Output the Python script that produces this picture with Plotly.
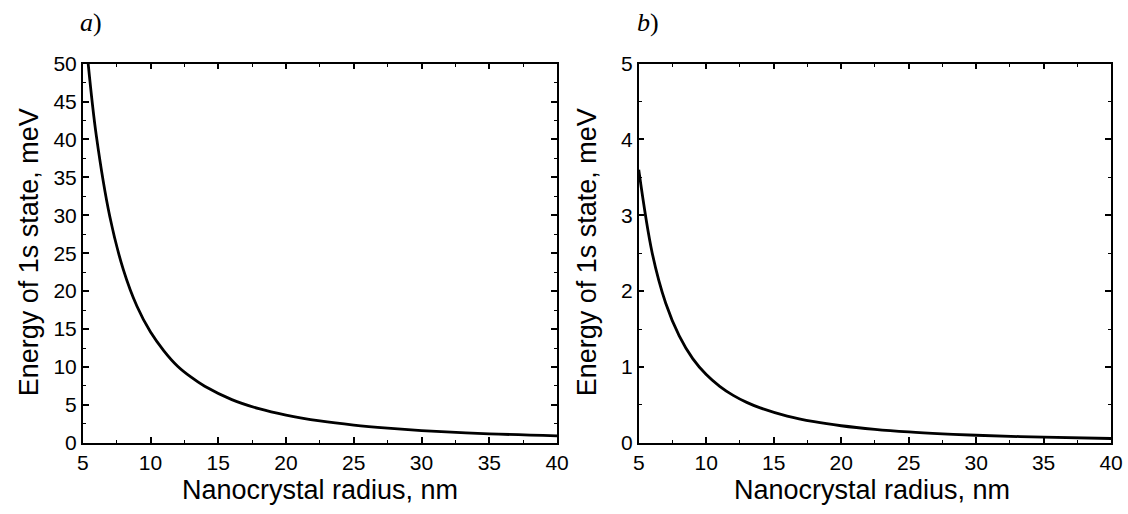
import plotly.graph_objects as go

# Data
radius_a = [5.4, 6, 7, 8, 9, 10, 11, 12, 13, 14, 16, 18, 20, 22.5, 25, 27.5, 30, 35, 40]
energy_a = [50, 40.5, 29.8, 22.8, 18.0, 14.6, 12.1, 10.1, 8.65, 7.45, 5.7, 4.5, 3.65, 2.88, 2.33, 1.93, 1.62, 1.19, 0.92]

radius_b = [5, 6, 7, 8, 9, 10, 11, 12, 13, 14, 16, 18, 20, 22.5, 25, 27.5, 30, 35, 40]
energy_b = [3.6, 2.5, 1.84, 1.41, 1.11, 0.9, 0.745, 0.625, 0.533, 0.46, 0.352, 0.278, 0.225, 0.178, 0.144, 0.119, 0.1, 0.074, 0.057]

x_ticks = [5, 10, 15, 20, 25, 30, 35, 40]
y_ticks_a = [0, 5, 10, 15, 20, 25, 30, 35, 40, 45, 50]
y_ticks_b = [0, 1, 2, 3, 4, 5]

x_title = "Nanocrystal radius, nm"
y_title = "Energy of 1s state, meV"
panel_labels = ["<i>a</i>)", "<i>b</i>)"]

W, H = 1128, 514
FONT = "Liberation Sans, Arial, sans-serif"

fig = go.Figure()
fig.add_trace(go.Scatter(x=radius_a, y=energy_a, mode="lines", line=dict(color="black", width=2.8, shape="spline"),
                         xaxis="x", yaxis="y", showlegend=False))
fig.add_trace(go.Scatter(x=radius_b, y=energy_b, mode="lines", line=dict(color="black", width=2.8, shape="spline"),
                         xaxis="x2", yaxis="y2", showlegend=False))

def px_x(p):
    return p / W

def px_y(p):
    return 1 - p / H

ydom = [px_y(451), px_y(54)]
common = dict(showline=True, linecolor="black", linewidth=1.5, mirror="ticks", ticks="inside",
              ticklen=6, tickwidth=1.5, tickcolor="black", showgrid=False, zeroline=False,
              tickfont=dict(family=FONT, size=21, color="black"))
minor_common = dict(ticks="inside", ticklen=3.5, tickwidth=1.2, tickcolor="black")

fig.update_layout(
    width=W, height=H, margin=dict(l=0, r=0, t=0, b=0),
    paper_bgcolor="white", plot_bgcolor="white",
    xaxis=dict(domain=[px_x(78), px_x(560)], range=[5, 40], tickvals=x_ticks, anchor="y",
               minor=dict(dtick=2.5, tick0=5, **minor_common), **common),
    yaxis=dict(domain=ydom, range=[0, 50], tickvals=y_ticks_a, anchor="x",
               minor=dict(dtick=2.5, tick0=0, **minor_common), **common),
    xaxis2=dict(domain=[px_x(643), px_x(1123)], range=[5, 40], tickvals=x_ticks, anchor="y2",
                minor=dict(dtick=2.5, tick0=5, **minor_common), **common),
    yaxis2=dict(domain=ydom, range=[0, 5], tickvals=y_ticks_b, anchor="x2",
                minor=dict(dtick=0.5, tick0=0, **minor_common), **common),
)

ann = []
for cx in (319, 880):
    ann.append(dict(text=x_title, x=px_x(cx), y=px_y(500), xref="paper", yref="paper", showarrow=False,
                    xanchor="center", yanchor="middle", font=dict(family=FONT, size=27, color="black")))
for cx in (23, 590):
    ann.append(dict(text=y_title, x=px_x(cx), y=px_y(252), xref="paper", yref="paper", showarrow=False,
                    textangle=-90, xanchor="center", yanchor="middle", font=dict(family=FONT, size=27, color="black")))
for lx, lab in zip((73, 639), panel_labels):
    ann.append(dict(text=lab, x=px_x(lx), y=px_y(11), xref="paper", yref="paper", showarrow=False,
                    xanchor="left", yanchor="middle", font=dict(family="Liberation Serif, Times New Roman, serif", size=26, color="black")))
fig.update_layout(annotations=ann)

fig.write_html("out.html")
